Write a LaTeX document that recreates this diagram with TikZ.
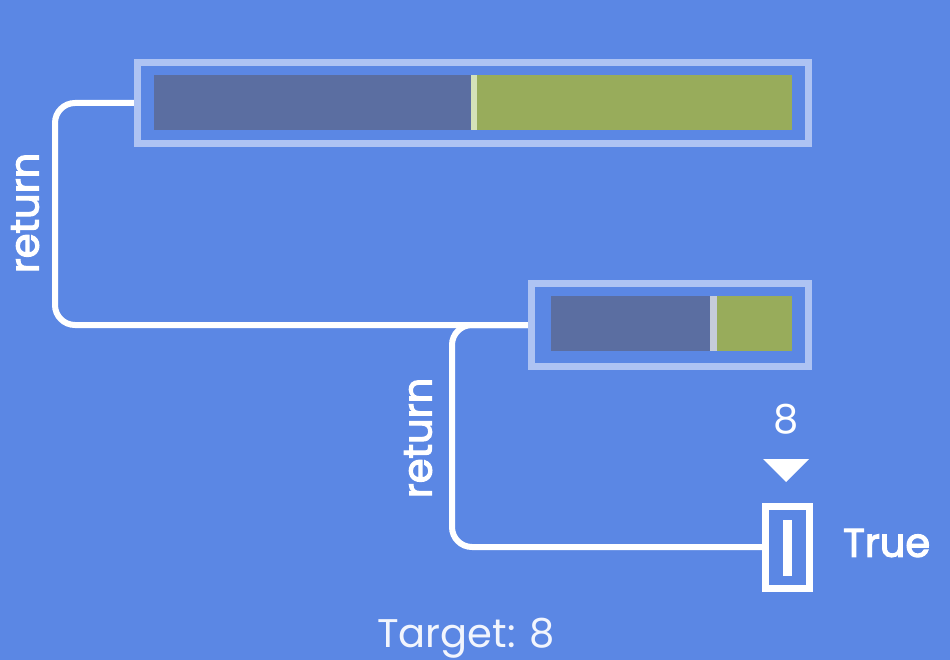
\documentclass[tikz,border=0pt]{standalone}
\usepackage{fontspec}
\setmainfont{Poppins}
\newfontfamily\semib{Poppins}[FakeBold=3]
\definecolor{bg}{HTML}{5B87E4}
\definecolor{frame}{HTML}{AEC3F3}
\definecolor{darkbar}{HTML}{5B6EA1}
\definecolor{greenbar}{HTML}{98AC5B}
\definecolor{sepA}{HTML}{D5E2B8}
\definecolor{sepB}{HTML}{C6CCDA}
\begin{document}
\begin{tikzpicture}[x=1pt,y=-1pt,
  arr/.style={draw=frame,line width=7pt,inner sep=0pt,outer sep=0pt},
  conn/.style={draw=white,line width=6pt,rounded corners=20pt},
  lbl/.style={text=white,inner sep=0pt,font=\fontsize{40}{48}\selectfont},
  slbl/.style={text=white,inner sep=0pt,font=\semib\fontsize{40}{48}\selectfont}]
\fill[bg] (0,0) rectangle (950,660);
\useasboundingbox (0,0) rectangle (950,660);
% nodes (positions)
\node[arr,minimum width=671pt,minimum height=81pt] (top) at (473,103) {};
\node[arr,minimum width=277pt,minimum height=82pt] (mid) at (670,325) {};
\node[draw=white,line width=7pt,inner sep=0pt,outer sep=0pt,minimum width=44pt,minimum height=82pt] (small) at (787.5,547) {};
\coordinate (c1) at (55,103);
\coordinate (c2) at (55,325);
\coordinate (b1) at (452,325);
\coordinate (b2) at (452,547);
% connectors
\draw[conn] (top.west) -- (c1) -- (c2) -- (mid.west);
\draw[conn] (mid.west) -- (b1) -- (b2) -- (small.west);
% redraw boxes over connectors
\node[arr,fill=bg,minimum width=671pt,minimum height=81pt] at (top) {};
\node[arr,fill=bg,minimum width=277pt,minimum height=82pt] at (mid) {};
\node[draw=white,fill=bg,line width=7pt,inner sep=0pt,outer sep=0pt,minimum width=44pt,minimum height=82pt] at (small) {};
% bars
\fill[darkbar] (154,75) rectangle (471,130);
\fill[sepA] (471,75) rectangle (477,130);
\fill[greenbar] (477,75) rectangle (792,130);
\fill[darkbar] (551,296) rectangle (710,351);
\fill[sepB] (710,296) rectangle (717,351);
\fill[greenbar] (717,296) rectangle (792,351);
\fill[white] (783,520) rectangle (792,576);
% pointer
\node[lbl] (eight) at (786,419) {8};
\fill[white] (763,459) -- (809,459) -- (786,482) -- cycle;
% labels
\node[slbl,rotate=90] (r1) at (25,213) {return};
\node[slbl,rotate=90] (r2) at (418,438) {return};
\node[slbl,anchor=west] (true) at (843,543) {True};
\node[lbl,anchor=base,text=white!92!bg] (target) at (466,647) {Target: 8};
\end{tikzpicture}
\end{document}
